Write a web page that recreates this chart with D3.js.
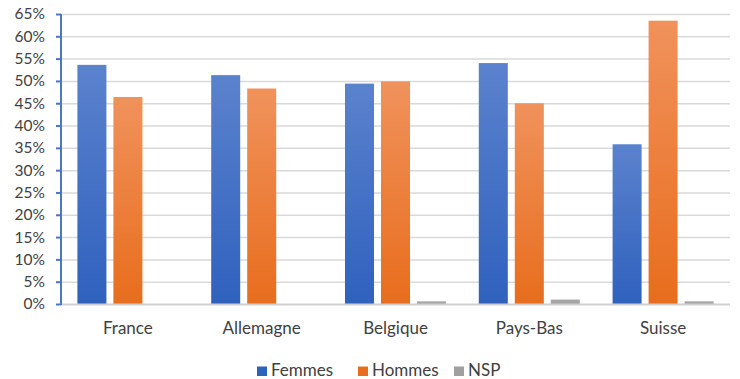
<!DOCTYPE html>
<html>
<head>
<meta charset="utf-8">
<script src="https://cdn.jsdelivr.net/npm/d3@7"></script>
<style>
  html, body { margin: 0; padding: 0; background: #ffffff; }
  svg { display: block; }
  text { font-family: "Lato", "Liberation Sans", sans-serif; fill: #404040; }
</style>
</head>
<body>
<svg id="chart" width="740" height="379"></svg>
<script>
// Countries on the x axis
const categories = ["France", "Allemagne", "Belgique", "Pays-Bas", "Suisse"];
// Series names (legend order)
const seriesNames = ["Femmes", "Hommes", "NSP"];
// Shares per country, in %
const femmes = [53.6, 51.3, 49.4, 54.0, 35.8];
const hommes = [46.4, 48.3, 49.9, 45.0, 63.5];
const nsp    = [0, 0, 0.6, 1.0, 0.6];
// Y axis ticks (in %)
const yTicks = [0, 5, 10, 15, 20, 25, 30, 35, 40, 45, 50, 55, 60, 65];
const yTickLabels = ["0%", "5%", "10%", "15%", "20%", "25%", "30%", "35%", "40%", "45%", "50%", "55%", "60%", "65%"];

const seriesValues = [femmes, hommes, nsp];
const colors = {
  Femmes: ["#5b82cd", "#2f61be"],
  Hommes: ["#f0925c", "#e86d1d"],
  NSP:    ["#aaaaaa", "#a0a0a0"]
};

const svg = d3.select("#chart");
const plotLeft = 61, plotRight = 730, plotTop = 14, plotBottom = 304;

const x0 = d3.scaleBand().domain(categories).range([plotLeft, plotRight])
  .paddingInner(0.245).paddingOuter(0.1225);
const x1 = d3.scaleBand().domain(seriesNames).range([0, x0.bandwidth()])
  .paddingInner(0.194).paddingOuter(0);
const y = d3.scaleLinear().domain([0, 65]).range([plotBottom, plotTop]);

// Vertical gradients, one per series
const defs = svg.append("defs");
seriesNames.forEach((s, i) => {
  const g = defs.append("linearGradient").attr("id", "grad" + i)
    .attr("x1", 0).attr("y1", 0).attr("x2", 0).attr("y2", 1);
  g.append("stop").attr("offset", "0%").attr("stop-color", colors[s][0]);
  g.append("stop").attr("offset", "100%").attr("stop-color", colors[s][1]);
});

// Horizontal gridlines
svg.append("g").selectAll("line")
  .data(yTicks.filter(d => d > 0))
  .join("line")
  .attr("x1", plotLeft).attr("x2", plotRight)
  .attr("y1", d => y(d) + 0.5).attr("y2", d => y(d) + 0.5)
  .attr("stroke", "#d9d9d9").attr("stroke-width", 1.5);

// Bars
const groups = svg.append("g").selectAll("g")
  .data(categories)
  .join("g")
  .attr("transform", d => `translate(${x0(d)},0)`);

groups.selectAll("rect")
  .data((c, ci) => seriesNames.map((s, si) => ({ s, si, v: seriesValues[si][ci] })))
  .join("rect")
  .attr("x", d => x1(d.s))
  .attr("width", x1.bandwidth())
  .attr("y", d => y(d.v))
  .attr("height", d => y(0) - y(d.v))
  .attr("fill", d => `url(#grad${d.si})`);

// Baseline
svg.append("line")
  .attr("x1", plotLeft).attr("x2", plotRight)
  .attr("y1", y(0) + 0.5).attr("y2", y(0) + 0.5)
  .attr("stroke", "#d0d0d0").attr("stroke-width", 2);

// Y axis
const yAxis = d3.axisLeft(y)
  .tickValues(yTicks)
  .tickFormat((d, i) => yTickLabels[i])
  .tickSize(5).tickPadding(11);
const ya = svg.append("g").attr("transform", `translate(${plotLeft},0)`).call(yAxis);
ya.select(".domain").attr("stroke", "#4a76c6").attr("stroke-width", 2)
  .attr("d", `M0,${y(65)}V${y(0) + 1}`);
ya.selectAll(".tick line").attr("stroke", "#4a76c6").attr("stroke-width", 2);
ya.selectAll(".tick text")
  .style("font-family", "Lato, 'Liberation Sans', sans-serif")
  .style("font-size", "15.5px").attr("fill", "#404040");

// X category labels
svg.append("g").selectAll("text")
  .data(categories)
  .join("text")
  .attr("x", d => x0(d) + x0.bandwidth() / 2)
  .attr("y", 333.5)
  .attr("text-anchor", "middle")
  .style("font-size", "17px")
  .text(d => d);

// Legend
const legendItems = [
  { s: "Femmes", x: 257 },
  { s: "Hommes", x: 358 },
  { s: "NSP", x: 454 }
];
const lg = svg.append("g").selectAll("g")
  .data(legendItems)
  .join("g")
  .attr("transform", d => `translate(${d.x},0)`);
lg.append("rect")
  .attr("x", 0).attr("y", 366.5).attr("width", 10).attr("height", 9.5)
  .attr("fill", d => colors[d.s][1]);
lg.append("text")
  .attr("x", 14).attr("y", 376)
  .style("font-size", "17px")
  .text(d => d.s);
</script>
</body>
</html>
